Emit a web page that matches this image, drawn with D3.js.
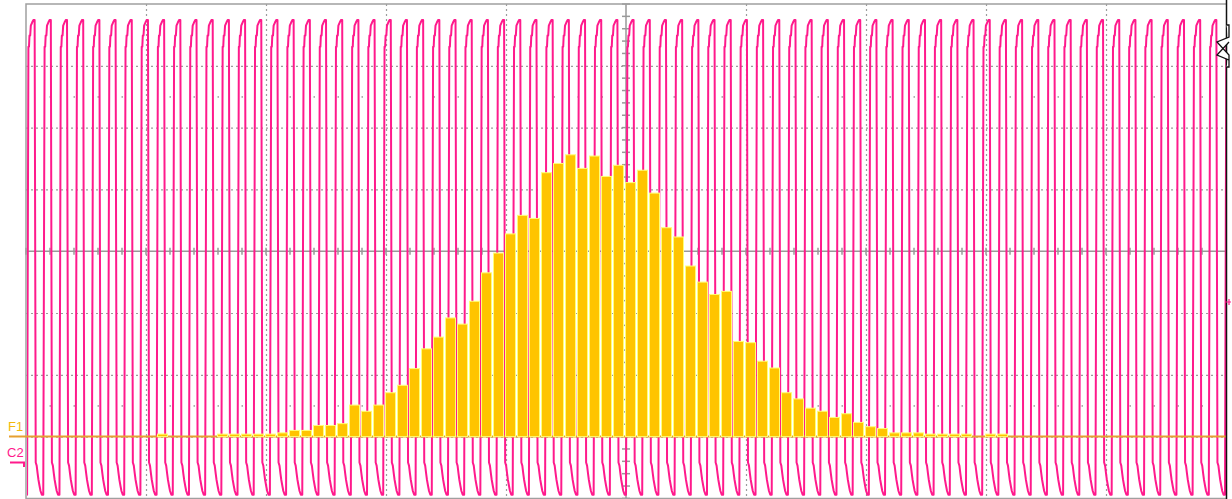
<!doctype html>
<html>
<head>
<script src="https://d3js.org/d3.v7.min.js"></script>
<style>
  body { margin: 0; background: #fff; }
  svg { display: block; }
</style>
</head>
<body>
<svg id="scope" width="1232" height="499"></svg>
<script>
// F1 histogram: bins of 0.1 div, first drawn bin index, heights in divisions above the F1 zero line
var histFirstBin = 11
var histValues = [0.04, 0, 0, 0, 0, 0.04, 0.04, 0.04, 0.04, 0.04,
                  0.06, 0.10, 0.10, 0.18, 0.18, 0.21, 0.51, 0.41, 0.51, 0.71,
                  0.83, 1.10, 1.42, 1.61, 1.92, 1.82, 2.19, 2.65, 2.97, 3.28,
                  3.58, 3.53, 4.27, 4.42, 4.56, 4.34, 4.54, 4.21, 4.39, 4.11,
                  4.31, 3.94, 3.38, 3.23, 2.76, 2.50, 2.30, 2.35, 1.54, 1.52,
                  1.22, 1.11, 0.71, 0.61, 0.46, 0.41, 0.31, 0.37, 0.23, 0.16,
                  0.13, 0.06, 0.06, 0.06, 0.04, 0.04, 0.04, 0.04, 0, 0.04, 0.04]
var histZero = -3   // F1 zero level, div

// C2 trace: one cycle, relative to its peak (time div, volts div)
var cycleTimes = [-0.052, -0.041, -0.036, -0.032, -0.026, -0.021, -0.010, 0, 0.011, 0.020, 0.028, 0.036, 0.042, 0.052, 0.060, 0.071]
var cycleVolts = [-3.94, 3.31, 3.31, 3.49, 3.49, 3.65, 3.70, 3.74, 3.74, -3.42, -3.47, -3.60, -3.69, -3.80, -3.88, -3.94]
var firstPeak = -4.939   // div
var period = 0.1349      // div
var cycleCount = 75

var svg = d3.select("#scope")
var x = d3.scaleLinear().domain([-5, 5]).range([26, 1226])
var y = d3.scaleLinear().domain([-4, 4]).range([498.4, 4])

var gridColor = "#9c9c9c"

// dotted major grid
var g = svg.append("g")
g.selectAll(".vg").data([-4, -3, -2, -1, 1, 2, 3, 4]).enter().append("line")
  .attr("x1", d => x(d) + 0.5).attr("x2", d => x(d) + 0.5)
  .attr("y1", y(4)).attr("y2", y(-4))
  .attr("stroke", gridColor).attr("stroke-width", 1.2).attr("stroke-dasharray", "2,3")
g.selectAll(".hg").data([-3, -2, -1, 1, 2, 3]).enter().append("line")
  .attr("x1", x(-5)).attr("x2", x(5))
  .attr("y1", d => y(d) + 0.5).attr("y2", d => y(d) + 0.5)
  .attr("stroke", gridColor).attr("stroke-width", 1.2).attr("stroke-dasharray", "2,3")

// dot rows at +-2.5 div
var minorX = d3.range(-49, 50).map(d => d / 10).filter(d => Math.abs(d * 5 - Math.round(d * 5)) < 1e-6 && Math.abs(d - Math.round(d)) > 1e-6)
;[2.5, -2.5].forEach(function(lv) {
  g.selectAll(null).data(minorX).enter().append("rect")
    .attr("x", d => x(d) - 0.5).attr("y", y(lv) - 0.5)
    .attr("width", 1.5).attr("height", 1.5).attr("fill", gridColor)
})

// centre cross with minor ticks
g.append("line").attr("x1", x(-5)).attr("x2", x(5)).attr("y1", y(0)).attr("y2", y(0))
  .attr("stroke", "#999").attr("stroke-width", 1.5)
g.append("line").attr("x1", x(0)).attr("x2", x(0)).attr("y1", y(4)).attr("y2", y(-4))
  .attr("stroke", "#999").attr("stroke-width", 1.5)
g.selectAll(".xt").data(d3.range(-25, 26).map(d => d / 5)).enter().append("line")
  .attr("x1", d => x(d)).attr("x2", d => x(d))
  .attr("y1", y(0) - 3.5).attr("y2", y(0) + 3.5)
  .attr("stroke", "#999").attr("stroke-width", 1.5)
g.selectAll(".yt").data(d3.range(-20, 21).map(d => d / 5)).enter().append("line")
  .attr("x1", x(0) - 4).attr("x2", x(0) + 4)
  .attr("y1", d => y(d)).attr("y2", d => y(d))
  .attr("stroke", "#999").attr("stroke-width", 1.5)

// frame
svg.append("path")
  .attr("d", "M" + x(5) + "," + y(4) + "H" + x(-5) + "V" + y(-4) + "H" + x(5))
  .attr("fill", "none").attr("stroke", "#a0a0a0").attr("stroke-width", 1.5)

// C2 trace
var tracePts = []
for (var c = -1; c < cycleCount; c++) {
  var p = firstPeak + c * period
  cycleTimes.forEach(function(t, i) { tracePts.push([p + t, cycleVolts[i]]) })
}
svg.append("clipPath").attr("id", "plotclip").append("rect")
  .attr("x", x(-5) + 1).attr("y", 0).attr("width", x(5) - x(-5) - 1).attr("height", 499)
svg.append("path")
  .datum(tracePts)
  .attr("clip-path", "url(#plotclip)")
  .attr("fill", "none").attr("stroke", "#ff1a8c").attr("stroke-width", 2)
  .attr("stroke-linejoin", "round")
  .attr("d", d3.line().x(d => x(d[0])).y(d => y(d[1])))

// F1 zero line
svg.append("line").attr("x1", 9).attr("x2", x(5)).attr("y1", y(histZero)).attr("y2", y(histZero))
  .attr("stroke", "#e6a032").attr("stroke-width", 2)

// F1 histogram bars
var bins = histValues.map((v, i) => ({ bin: histFirstBin + i, v: v })).filter(d => d.v > 0)
svg.append("g").selectAll("rect").data(bins).enter().append("rect")
  .attr("x", d => x(-5 + d.bin / 10) - 0.5)
  .attr("width", 10)
  .attr("y", d => y(histZero + d.v))
  .attr("height", d => y(histZero) - y(histZero + d.v))
  .attr("fill", "#ffc400").attr("stroke", "#ffff78").attr("stroke-width", 1)

// channel labels
svg.append("text").attr("x", 8).attr("y", 431).text("F1")
  .attr("font-family", "Liberation Sans, Arial, sans-serif").attr("font-size", 13)
  .attr("fill", "#f2b80c")
svg.append("text").attr("x", 7).attr("y", 457).text("C2")
  .attr("font-family", "Liberation Sans, Arial, sans-serif").attr("font-size", 13)
  .attr("fill", "#ff1a8c")
svg.append("path").attr("d", "M10,462.5H24V467")
  .attr("fill", "none").attr("stroke", "#ff1a8c").attr("stroke-width", 2)

// right edge: trigger marker
svg.append("line").attr("x1", 1226.5).attr("x2", 1226.5).attr("y1", 0).attr("y2", 499)
  .attr("stroke", "#111").attr("stroke-width", 1.5)
svg.append("path")
  .attr("d", "M1226.5,25H1229V37L1217,42L1229,55V60L1217,55L1229,42M1229,55V67H1226.5")
  .attr("fill", "#fff").attr("stroke", "#111").attr("stroke-width", 1.3)
svg.append("path").attr("d", "M1225,302H1231M1229,299V305")
  .attr("stroke", "#ff1a8c").attr("stroke-width", 1.2)
</script>
</body>
</html>
